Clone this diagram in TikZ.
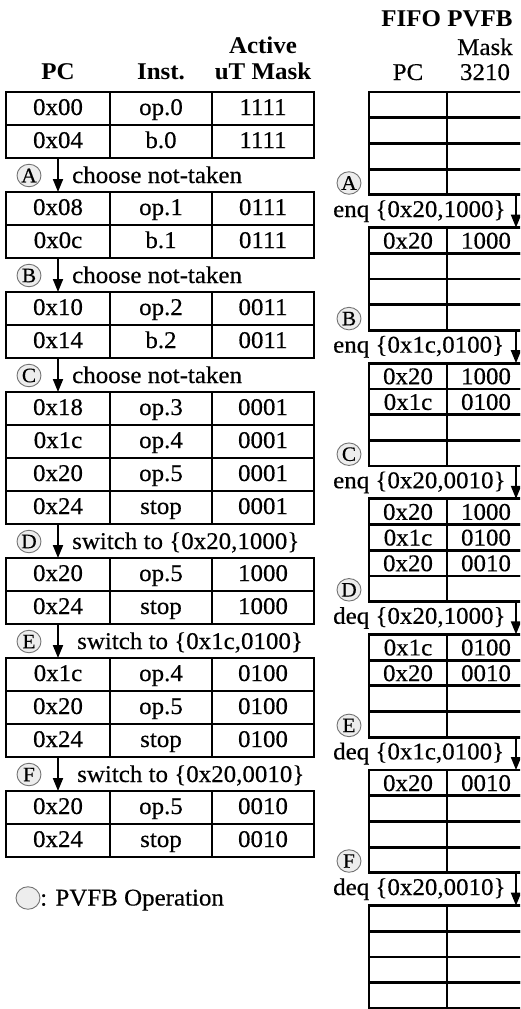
\documentclass[tikz,border=0pt]{standalone}
\usepackage{fontspec}
\setmainfont{Liberation Serif}[FakeStretch=1.04, UprightFeatures={FakeBold=0.4}]
\usetikzlibrary{arrows.meta,shapes.geometric}

% one row of the instruction trace: name, top edge, PC, instruction, mask
\newcommand\irow[5]{%
  \node[icell, minimum width=104pt] (#1a) at (58,#2+16.5) {#3};
  \node[icell, minimum width=102pt] (#1b) at (161,#2+16.5) {#4};
  \node[icell, minimum width=102pt] (#1c) at (263,#2+16.5) {#5};}

% one entry of the FIFO: name, top edge, PC, mask
\newcommand\qrow[4]{%
  \node[fcell] (#1a) at (408,#2+12.85) {#3};
  \node[fcell] (#1b) at (486,#2+12.85) {#4};}

% a whole FIFO of four entries: name, top edge, list of pc/mask pairs
\newcommand\fifo[3]{%
  \foreach \pc/\mk [count=\i from 0] in {#3} {
    \qrow{#1r\i}{#2+25.7*\i}{\pc}{\mk}
  }}

\tikzset{
  every node/.style={font=\fontsize{24pt}{28pt}\selectfont},
  icell/.style={draw, line width=2.8pt, rectangle, inner sep=0pt, outer sep=0pt,
    minimum height=33pt, text height=17pt, text depth=4pt},
  fcell/.style={draw, line width=2.8pt, rectangle, inner sep=0pt, outer sep=0pt,
    minimum width=78pt, minimum height=25.7pt, text height=17pt, text depth=0.7pt},
  pvfb/.style={ellipse, draw=black!55, fill=black!7, line width=0.9pt,
    minimum width=24pt, minimum height=22.5pt, inner sep=0pt,
    font=\fontsize{20.5pt}{23pt}\selectfont},
  note/.style={anchor=base west, inner sep=0pt},
  hdr/.style={anchor=base, inner sep=0pt, font=\fontsize{24pt}{28pt}\selectfont\bfseries},
  sub/.style={anchor=base, inner sep=0pt},
  flow/.style={-{Triangle[length=13pt,width=10pt]}, line width=2pt},
}

\begin{document}
\begin{tikzpicture}[x=1pt, y=-1pt]
\useasboundingbox (0,0) rectangle (520,1009);
\clip (0,0) rectangle (520,1009);

% ---- column headings ----
\node[hdr] (hpc) at (58,79) {PC};
\node[hdr] (hinst) at (161,79) {Inst.};
\node[hdr] (hact) at (263,53) {Active};
\node[hdr] (hmask) at (263,79) {uT Mask};
\node[hdr] (hfifo) at (447,26) {FIFO PVFB};
\node[sub] (hfmask) at (485,55) {Mask};
\node[sub] (hfpc) at (408,80) {PC};
\node[sub] (hfbits) at (485,80) {3210};

% ---- instruction trace ----
\irow{t1r1}{92}{0x00}{op.0}{1111}
\irow{t1r2}{125}{0x04}{b.0}{1111}

\irow{t2r1}{192}{0x08}{op.1}{0111}
\irow{t2r2}{225}{0x0c}{b.1}{0111}

\irow{t3r1}{292}{0x10}{op.2}{0011}
\irow{t3r2}{325}{0x14}{b.2}{0011}

\irow{t4r1}{392}{0x18}{op.3}{0001}
\irow{t4r2}{425}{0x1c}{op.4}{0001}
\irow{t4r3}{458}{0x20}{op.5}{0001}
\irow{t4r4}{491}{0x24}{stop}{0001}

\irow{t5r1}{558}{0x20}{op.5}{1000}
\irow{t5r2}{591}{0x24}{stop}{1000}

\irow{t6r1}{658}{0x1c}{op.4}{0100}
\irow{t6r2}{691}{0x20}{op.5}{0100}
\irow{t6r3}{724}{0x24}{stop}{0100}

\irow{t7r1}{791}{0x20}{op.5}{0010}
\irow{t7r2}{824}{0x24}{stop}{0010}

% ---- transitions between trace blocks ----
\node[pvfb] (sa) at (29,175.5) {A};
\node[note] (na) at (72,183) {choose not-taken};
\draw[flow] (t1r2a.south) -- (t2r1a.north);

\node[pvfb] (sb) at (29,275.5) {B};
\node[note] (nb) at (72,283) {choose not-taken};
\draw[flow] (t2r2a.south) -- (t3r1a.north);

\node[pvfb] (sc) at (29,375.5) {C};
\node[note] (nc) at (72,383) {choose not-taken};
\draw[flow] (t3r2a.south) -- (t4r1a.north);

\node[pvfb] (sd) at (29,541.5) {D};
\node[note] (nd) at (72,549) {switch to \{0x20,1000\}};
\draw[flow] (t4r4a.south) -- (t5r1a.north);

\node[pvfb] (se) at (29,641.5) {E};
\node[note] (ne) at (77,649) {switch to \{0x1c,0100\}};
\draw[flow] (t5r2a.south) -- (t6r1a.north);

\node[pvfb] (sf) at (29,774.5) {F};
\node[note] (nf) at (77,782) {switch to \{0x20,0010\}};
\draw[flow] (t6r3a.south) -- (t7r1a.north);

% ---- legend ----
\node[pvfb] (key) at (28,898) {};
\node[note] (keytext) at (40,905.5) {: PVFB Operation};

% ---- FIFO states ----
\fifo{f0}{92}{/,/,/,/}
\fifo{f1}{227.6}{0x20/1000,/,/,/}
\fifo{f2}{363.2}{0x20/1000,0x1c/0100,/,/}
\fifo{f3}{498.8}{0x20/1000,0x1c/0100,0x20/0010,/}
\fifo{f4}{634.4}{0x1c/0100,0x20/0010,/,/}
\fifo{f5}{770}{0x20/0010,/,/,/}
\fifo{f6}{905.6}{/,/,/,/}

% ---- FIFO operations ----
\node[pvfb] (qa) at (349,183) {A};
\node[note] (oa) at (333,217) {enq \{0x20,1000\}};
\draw[flow] ([xshift=-9pt]f0r3b.south east) -- ([xshift=-9pt]f1r0b.north east);

\node[pvfb] (qb) at (349,318.6) {B};
\node[note] (ob) at (333,352.6) {enq \{0x1c,0100\}};
\draw[flow] ([xshift=-9pt]f1r3b.south east) -- ([xshift=-9pt]f2r0b.north east);

\node[pvfb] (qc) at (349,454.2) {C};
\node[note] (oc) at (333,488.2) {enq \{0x20,0010\}};
\draw[flow] ([xshift=-9pt]f2r3b.south east) -- ([xshift=-9pt]f3r0b.north east);

\node[pvfb] (qd) at (349,589.8) {D};
\node[note] (od) at (333,623.8) {deq \{0x20,1000\}};
\draw[flow] ([xshift=-9pt]f3r3b.south east) -- ([xshift=-9pt]f4r0b.north east);

\node[pvfb] (qe) at (349,725.4) {E};
\node[note] (oe) at (333,759.4) {deq \{0x1c,0100\}};
\draw[flow] ([xshift=-9pt]f4r3b.south east) -- ([xshift=-9pt]f5r0b.north east);

\node[pvfb] (qf) at (349,861) {F};
\node[note] (of) at (333,895) {deq \{0x20,0010\}};
\draw[flow] ([xshift=-9pt]f5r3b.south east) -- ([xshift=-9pt]f6r0b.north east);
\end{tikzpicture}
\end{document}
